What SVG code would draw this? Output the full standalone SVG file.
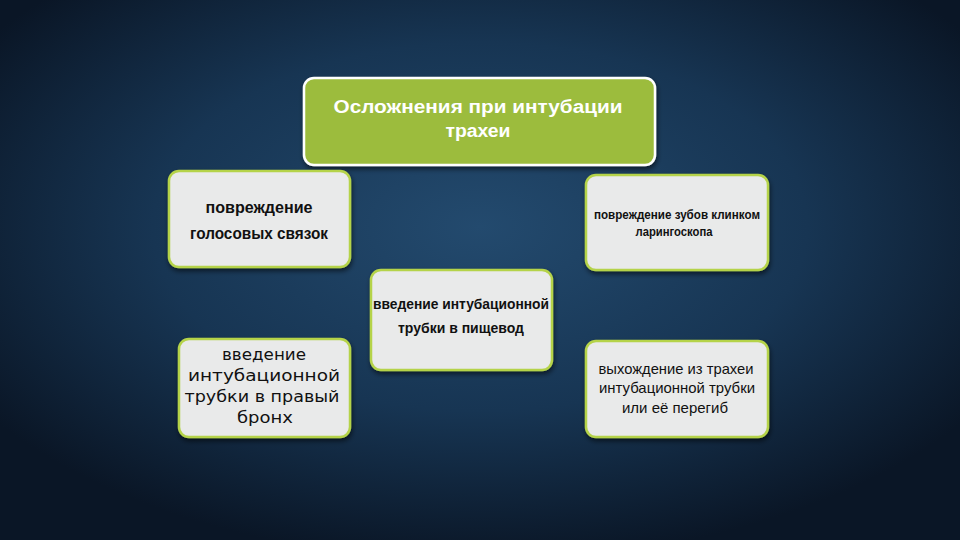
<svg xmlns="http://www.w3.org/2000/svg" width="960" height="540" viewBox="0 0 960 540">
<defs>
<radialGradient id="bg" cx="0.5" cy="0.42" r="0.62">
<stop offset="0" stop-color="#234a6e"/>
<stop offset="0.55" stop-color="#173553"/>
<stop offset="1" stop-color="#0a1626"/>
</radialGradient>
<filter id="sh" x="-10%" y="-10%" width="120%" height="130%">
<feDropShadow dx="1" dy="3" stdDeviation="2.5" flood-color="#000" flood-opacity="0.55"/>
</filter>
<style>
.box{fill:#e9eaea;stroke:#b5d34a;stroke-width:2.5;filter:url(#sh)}
.top{fill:#9cbc3e;stroke:#ffffff;stroke-width:2.5;filter:url(#sh)}
.t{font-family:"Liberation Sans",Arial,sans-serif;text-anchor:middle;fill:#111}
.b{font-weight:bold}
.w{fill:#ffffff}
.d{font-family:"DejaVu Sans",Verdana,sans-serif}
</style>
</defs>
<rect width="960" height="540" fill="url(#bg)"/>
<g id="connectors"/>
<g id="title">
<rect class="top" x="304" y="78" width="351" height="87" rx="10"/>
<text class="t b w" x="478" y="113" font-size="17.5" textLength="289" lengthAdjust="spacingAndGlyphs">Осложнения при интубации</text>
<text class="t b w" x="478" y="137" font-size="17.5" textLength="65" lengthAdjust="spacingAndGlyphs">трахеи</text>
</g>
<g id="node-vocal">
<rect class="box" x="169" y="171" width="181" height="96" rx="10"/>
<text class="t b" x="259" y="213" font-size="16" textLength="107" lengthAdjust="spacingAndGlyphs">повреждение</text>
<text class="t b" x="259" y="239" font-size="16" textLength="138" lengthAdjust="spacingAndGlyphs">голосовых связок</text>
</g>
<g id="node-teeth">
<rect class="box" x="586" y="175" width="182" height="95" rx="10"/>
<text class="t b" x="677" y="219" font-size="12" textLength="166" lengthAdjust="spacingAndGlyphs">повреждение зубов клинком</text>
<text class="t b" x="674" y="236" font-size="12" textLength="77" lengthAdjust="spacingAndGlyphs">ларингоскопа</text>
</g>
<g id="node-esophagus">
<rect class="box" x="371" y="270" width="181" height="100" rx="10"/>
<text class="t b" x="461" y="309" font-size="15" textLength="176" lengthAdjust="spacingAndGlyphs">введение интубационной</text>
<text class="t b" x="461" y="333" font-size="15" textLength="126" lengthAdjust="spacingAndGlyphs">трубки в пищевод</text>
</g>
<g id="node-bronchus">
<rect class="box" x="179" y="339" width="171" height="98" rx="10"/>
<text class="t d" x="264" y="360" font-size="15.5" textLength="84" lengthAdjust="spacingAndGlyphs">введение</text>
<text class="t d" x="264" y="381" font-size="15.5" textLength="152" lengthAdjust="spacingAndGlyphs">интубационной</text>
<text class="t d" x="262" y="402" font-size="15.5" textLength="155" lengthAdjust="spacingAndGlyphs">трубки в правый</text>
<text class="t d" x="265" y="423" font-size="15.5" textLength="56" lengthAdjust="spacingAndGlyphs">бронх</text>
</g>
<g id="node-extubation">
<rect class="box" x="586" y="341" width="182" height="96" rx="10"/>
<text class="t" x="676" y="374" font-size="15" textLength="155" lengthAdjust="spacingAndGlyphs">выхождение из трахеи</text>
<text class="t" x="677" y="393" font-size="15" textLength="156" lengthAdjust="spacingAndGlyphs">интубационной трубки</text>
<text class="t" x="675" y="413" font-size="15" textLength="106" lengthAdjust="spacingAndGlyphs">или её перегиб</text>
</g>
</svg>
